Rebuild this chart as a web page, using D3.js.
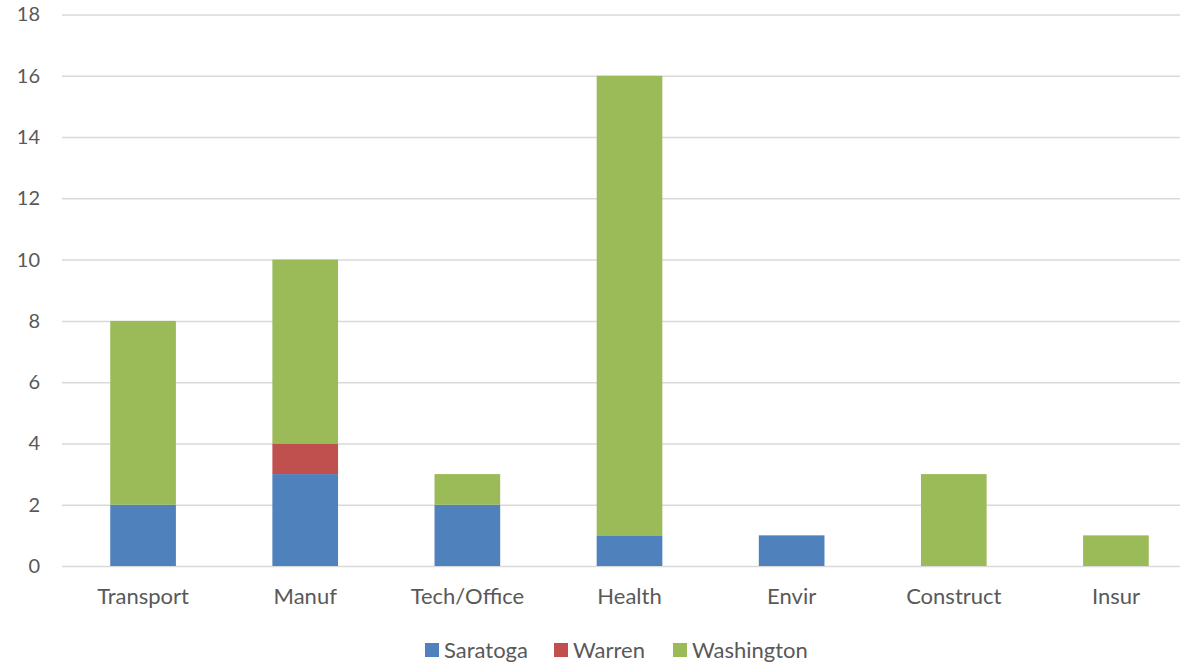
<!DOCTYPE html>
<html>
<head>
<meta charset="utf-8">
<script src="https://cdn.jsdelivr.net/npm/d3@7"></script>
<style>
  html, body { margin: 0; padding: 0; background: #fff; }
  svg { display: block; font-family: Lato, "Open Sans", sans-serif; }
</style>
</head>
<body>
<svg id="chart" width="1180" height="665"></svg>
<script>
// Stacked counts by sector and county
const categories = ["Transport", "Manuf", "Tech/Office", "Health", "Envir", "Construct", "Insur"];
const seriesNames = ["Saratoga", "Warren", "Washington"];
const saratoga   = [2, 3, 2, 1, 1, 0, 0];
const warren     = [0, 1, 0, 0, 0, 0, 0];
const washington = [6, 6, 1, 15, 0, 3, 1];
const yTicks = [0, 2, 4, 6, 8, 10, 12, 14, 16, 18];
const colors = ["#4F81BD", "#C0504D", "#9BBB59"];

const rows = categories.map((c, i) => ({
  category: c,
  Saratoga: saratoga[i],
  Warren: warren[i],
  Washington: washington[i]
}));

const svg = d3.select("#chart");
const margin = { left: 62, right: -17, top: 14.5, bottom: 99 };
const W = 1180, H = 665;
const FONT = "Lato, 'Open Sans', sans-serif";

const x = d3.scaleBand()
  .domain(categories)
  .range([margin.left, W - margin.right])
  .paddingInner(0.595)
  .paddingOuter(0.2975);

const y = d3.scaleLinear()
  .domain([0, 18])
  .range([H - margin.bottom, margin.top]);

// Horizontal gridlines and value labels
const yAxis = svg.append("g")
  .attr("transform", `translate(${margin.left},0)`)
  .call(d3.axisLeft(y).tickValues(yTicks).tickSize(-(W - margin.right - margin.left)).tickPadding(22))
  .attr("font-family", FONT);
yAxis.select(".domain").remove();
yAxis.selectAll(".tick line").attr("stroke", "#d9d9d9").attr("stroke-width", 1.5);
yAxis.selectAll(".tick text").attr("fill", "#595959").style("font-size", "20px");

// Stacked bars
const stack = d3.stack().keys(seriesNames);
const layers = stack(rows);
const color = d3.scaleOrdinal().domain(seriesNames).range(colors);

svg.append("g").selectAll("g")
  .data(layers)
  .join("g")
  .attr("fill", d => color(d.key))
  .selectAll("rect")
  .data(d => d.filter(s => s[1] - s[0] > 0))
  .join("rect")
  .attr("x", d => x(d.data.category))
  .attr("width", x.bandwidth())
  .attr("y", d => y(d[1]))
  .attr("height", d => y(d[0]) - y(d[1]));

// Category labels
const xAxis = svg.append("g")
  .attr("transform", `translate(0,${y(0)})`)
  .call(d3.axisBottom(x).tickSize(0).tickPadding(22))
  .attr("font-family", FONT);
xAxis.select(".domain").remove();
xAxis.selectAll(".tick text").attr("fill", "#595959").style("font-size", "22px");

// Legend
const legendX = [425, 554, 673];
const legend = svg.append("g").selectAll("g")
  .data(seriesNames)
  .join("g")
  .attr("transform", (d, i) => `translate(${legendX[i]},650)`);
legend.append("rect")
  .attr("x", 0).attr("y", -7)
  .attr("width", 14).attr("height", 14)
  .attr("fill", d => color(d));
legend.append("text")
  .attr("x", 19).attr("y", 0)
  .attr("dy", "0.35em")
  .attr("fill", "#595959")
  .style("font-size", "22px")
  .text(d => d);
</script>
</body>
</html>
